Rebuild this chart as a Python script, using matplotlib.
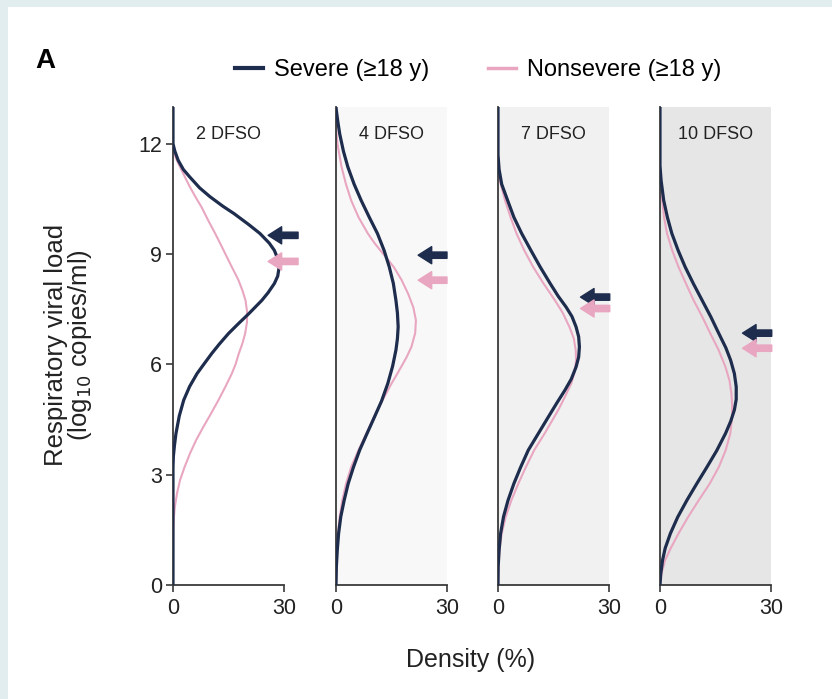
import matplotlib
matplotlib.use('Agg')
import matplotlib.pyplot as plt
from matplotlib.lines import Line2D
from matplotlib.patches import Rectangle

plt.rcParams['font.family'] = ['Liberation Sans', 'DejaVu Sans']

NAVY = '#1e2d4d'
PINK = '#e9a6c1'

panels = ['2 DFSO', '4 DFSO', '7 DFSO', '10 DFSO']
bg_colors = ['#ffffff', '#f8f8f8', '#f1f1f1', '#e6e6e6']

# viral load (log10) vs density (%)
sev2_y = [13.0, 12.0, 11.8, 11.55, 11.3, 11.1, 10.8, 10.56, 10.3, 10.1, 9.8, 9.56, 9.3, 9.1, 8.85, 8.65, 8.4, 8.2,
          7.95, 7.74, 7.38, 7.1, 6.84, 6.55, 6.3, 6.0, 5.75, 5.4, 5.03, 4.6, 4.12, 3.8, 3.5, 3.2, 0.0]
sev2_d = [0, 0, 0.5, 1.4, 2.8, 4.5, 7.2, 10.0, 13.5, 16.5, 20.5, 23.5, 26.0, 27.4, 28.4, 28.7, 28.3, 27.4,
          25.7, 24.0, 20.5, 17.6, 15.0, 12.5, 10.5, 8.3, 6.5, 4.5, 2.9, 1.7, 0.8, 0.4, 0.1, 0, 0]
non2_y = [13.0, 11.85, 11.6, 11.37, 11.1, 10.82, 10.55, 10.28, 9.9, 9.56, 9.2, 8.83, 8.55, 8.29, 8.0, 7.74, 7.45,
          7.15, 6.84, 6.55, 6.3, 6.0, 5.75, 5.4, 5.03, 4.65, 4.3, 3.95, 3.58, 3.2, 2.85, 2.5, 2.13, 1.8, 1.5, 0.0]
non2_d = [0, 0, 0.8, 1.9, 3.2, 4.6, 6.1, 7.7, 9.6, 11.4, 13.2, 15.0, 16.4, 17.7, 18.8, 19.6, 20.0,
          20.0, 19.5, 18.7, 17.8, 16.9, 15.9, 14.2, 12.3, 10.2, 8.2, 6.3, 4.6, 3.1, 1.9, 1.1, 0.5, 0.2, 0.05, 0]

sev4_y = [13.0, 12.9, 12.6, 12.27, 11.8, 11.37, 10.9, 10.46, 10.0, 9.56, 9.1, 8.65, 8.2, 7.74, 7.4, 7.02, 6.7,
          6.39, 5.95, 5.48, 5.0, 4.57, 4.1, 3.67, 3.2, 2.76, 2.3, 1.86, 1.4, 0.95, 0.5, 0.0]
sev4_d = [0, 0.1, 0.5, 1.0, 2.0, 3.2, 4.9, 6.8, 9.0, 11.2, 13.0, 14.4, 15.5, 16.2, 16.6, 16.8, 16.6,
          16.2, 15.3, 14.0, 12.3, 10.4, 8.3, 6.4, 4.7, 3.3, 2.2, 1.3, 0.7, 0.35, 0.1, 0]
non4_y = [13.0, 12.4, 12.0, 11.37, 10.9, 10.46, 10.0, 9.56, 9.3, 9.1, 8.85, 8.65, 8.3, 7.92, 7.55, 7.2, 6.85,
          6.48, 6.2, 5.93, 5.7, 5.48, 5.03, 4.6, 4.12, 3.65, 3.21, 2.75, 2.3, 1.85, 1.4, 0.95, 0.5, 0.0]
non4_d = [0, 0, 0.4, 1.5, 2.7, 4.1, 6.1, 8.6, 10.4, 12.0, 14.0, 15.6, 17.7, 19.5, 20.9, 21.6, 21.4,
          20.4, 19.1, 17.6, 16.3, 15.0, 12.6, 10.4, 8.2, 6.0, 4.1, 2.7, 1.7, 1.0, 0.55, 0.25, 0.08, 0]

sev7_y = [13.0, 11.7, 11.3, 10.9, 10.46, 10.0, 9.56, 9.1, 8.65, 8.2, 7.85, 7.56, 7.3, 7.02, 6.75, 6.48, 6.2,
          5.93, 5.6, 5.3, 4.95, 4.57, 4.12, 3.67, 3.2, 2.76, 2.3, 1.86, 1.4, 0.95, 0.5, 0.0]
sev7_d = [0, 0, 0.3, 1.0, 2.6, 4.3, 6.4, 8.9, 11.4, 14.1, 16.3, 18.4, 20.0, 21.1, 21.8, 22.0, 21.8,
          21.1, 19.8, 18.1, 15.9, 13.6, 10.9, 8.2, 6.1, 4.3, 2.7, 1.5, 0.7, 0.3, 0.05, 0]
non7_y = [13.0, 11.6, 11.0, 10.46, 10.0, 9.56, 9.1, 8.65, 8.2, 7.74, 7.4, 7.02, 6.7, 6.39, 6.1, 5.8, 5.48,
          5.1, 4.8, 4.57, 4.12, 3.67, 3.2, 2.76, 2.3, 1.86, 1.4, 0.95, 0.5, 0.0]
non7_d = [0, 0, 0.5, 1.9, 3.4, 5.0, 7.1, 9.5, 12.3, 15.4, 17.5, 19.3, 20.5, 21.0, 21.1, 20.7, 19.8,
          18.0, 16.5, 15.2, 12.6, 9.8, 7.5, 5.5, 3.6, 2.1, 1.0, 0.4, 0.1, 0]

sev10_y = [13.0, 11.4, 11.0, 10.46, 10.0, 9.56, 9.1, 8.65, 8.2, 7.74, 7.3, 6.84, 6.45, 6.11, 5.75, 5.39, 5.05,
           4.76, 4.45, 4.12, 3.65, 3.21, 2.75, 2.31, 1.85, 1.4, 1.0, 0.68, 0.3, 0.0]
sev10_d = [0, 0, 0.3, 1.0, 2.0, 3.2, 4.9, 6.8, 9.0, 11.4, 13.7, 15.9, 17.8, 19.1, 20.1, 20.6, 20.6,
           20.1, 19.1, 17.7, 15.3, 12.7, 9.9, 7.3, 4.8, 2.8, 1.4, 0.7, 0.2, 0]
non10_y = [13.0, 11.2, 10.8, 10.46, 10.0, 9.56, 9.1, 8.65, 8.2, 7.74, 7.3, 6.84, 6.4, 5.93, 5.55, 5.21, 4.9,
           4.57, 4.12, 3.65, 3.21, 2.75, 2.31, 1.85, 1.4, 1.0, 0.68, 0.35, 0.1, 0.0]
non10_d = [0, 0, 0.3, 0.6, 1.1, 1.9, 3.3, 5.0, 7.0, 9.1, 11.4, 13.6, 15.8, 17.7, 18.8, 19.3, 19.5,
           19.5, 19.0, 17.7, 15.9, 13.4, 10.5, 7.6, 5.0, 2.9, 1.4, 0.5, 0.1, 0]

# arrow markers (viral load level) for severe / nonsevere
sev_marks = [9.51, 8.97, 7.83, 6.85]
non_marks = [8.80, 8.29, 7.52, 6.44]
arrow_tip = [25.7, 22.2, 22.3, 22.3]
arrow_tail = [33.8, 30.0, 30.2, 30.2]

sev_y = [sev2_y, sev4_y, sev7_y, sev10_y]
sev_d = [sev2_d, sev4_d, sev7_d, sev10_d]
non_y = [non2_y, non4_y, non7_y, non10_y]
non_d = [non2_d, non4_d, non7_d, non10_d]

W, H = 832, 699
fig = plt.figure(figsize=(W / 100, H / 100), dpi=100)
fig.patch.set_facecolor('#e2edef')
fig.patches.append(Rectangle((8 / W, 0), 1, 1 - 7 / H, transform=fig.transFigure,
                             facecolor='white', edgecolor='none', zorder=-1))

x0s = [173, 336, 498, 660]
pw = 111
bottom = 1 - 585 / H
height = (585 - 107) / H

for i in range(4):
    ax = fig.add_axes([x0s[i] / W, bottom, pw / W, height])
    ax.set_facecolor(bg_colors[i])
    ax.plot(non_d[i], non_y[i], color=PINK, lw=1.5, zorder=2)
    ax.plot(sev_d[i], sev_y[i], color=NAVY, lw=2.3, zorder=3)
    ax.set_xlim(0, 30)
    ax.set_ylim(0, 13)
    for sp in ['top', 'right']:
        ax.spines[sp].set_visible(False)
    for sp in ['left', 'bottom']:
        ax.spines[sp].set_color('#3a3a3a')
        ax.spines[sp].set_linewidth(1.3)
    ax.set_xticks([0, 30])
    ax.tick_params(axis='x', length=5, width=1.2, color='#3a3a3a', labelsize=15.5, pad=4,
                   labelcolor='#222222')
    if i == 0:
        ax.set_yticks([0, 3, 6, 9, 12])
        ax.tick_params(axis='y', length=5, width=1.2, color='#3a3a3a', labelsize=15.5, pad=3,
                       labelcolor='#222222')
    else:
        ax.set_yticks([])
    ax.text(15, 12.25, panels[i], ha='center', va='center', fontsize=13, color='#222222')
    for yv, col in [(sev_marks[i], NAVY), (non_marks[i], PINK)]:
        ax.annotate('', xy=(arrow_tip[i], yv), xytext=(arrow_tail[i], yv),
                    arrowprops=dict(arrowstyle='simple,head_length=0.75,head_width=0.95,tail_width=0.35',
                                    color=col, shrinkA=0, shrinkB=0, mutation_scale=13),
                    annotation_clip=False, zorder=5)

handles = [Line2D([], [], color=NAVY, lw=3), Line2D([], [], color=PINK, lw=2.5)]
fig.legend(handles, ['Severe (≥18 y)', 'Nonsevere (≥18 y)'], loc='center',
           bbox_to_anchor=(478 / W, 1 - 70 / H), ncol=2, frameon=False, fontsize=17,
           handlelength=1.2, handletextpad=0.45, columnspacing=2.5)

fig.text(35 / W, 1 - 61 / H, 'A', fontsize=20, fontweight='bold', ha='left', va='center')
fig.text(69 / W, 1 - 345 / H, 'Respiratory viral load\n(log$_{10}$ copies/ml)', rotation=90,
         ha='center', va='center', fontsize=18.5, multialignment='center', color='#222222',
         linespacing=0.95)
fig.text(471 / W, 1 - 660 / H, 'Density (%)', ha='center', va='center', fontsize=18, color='#222222')

fig.savefig('out.png', dpi=100, facecolor=fig.get_facecolor())
